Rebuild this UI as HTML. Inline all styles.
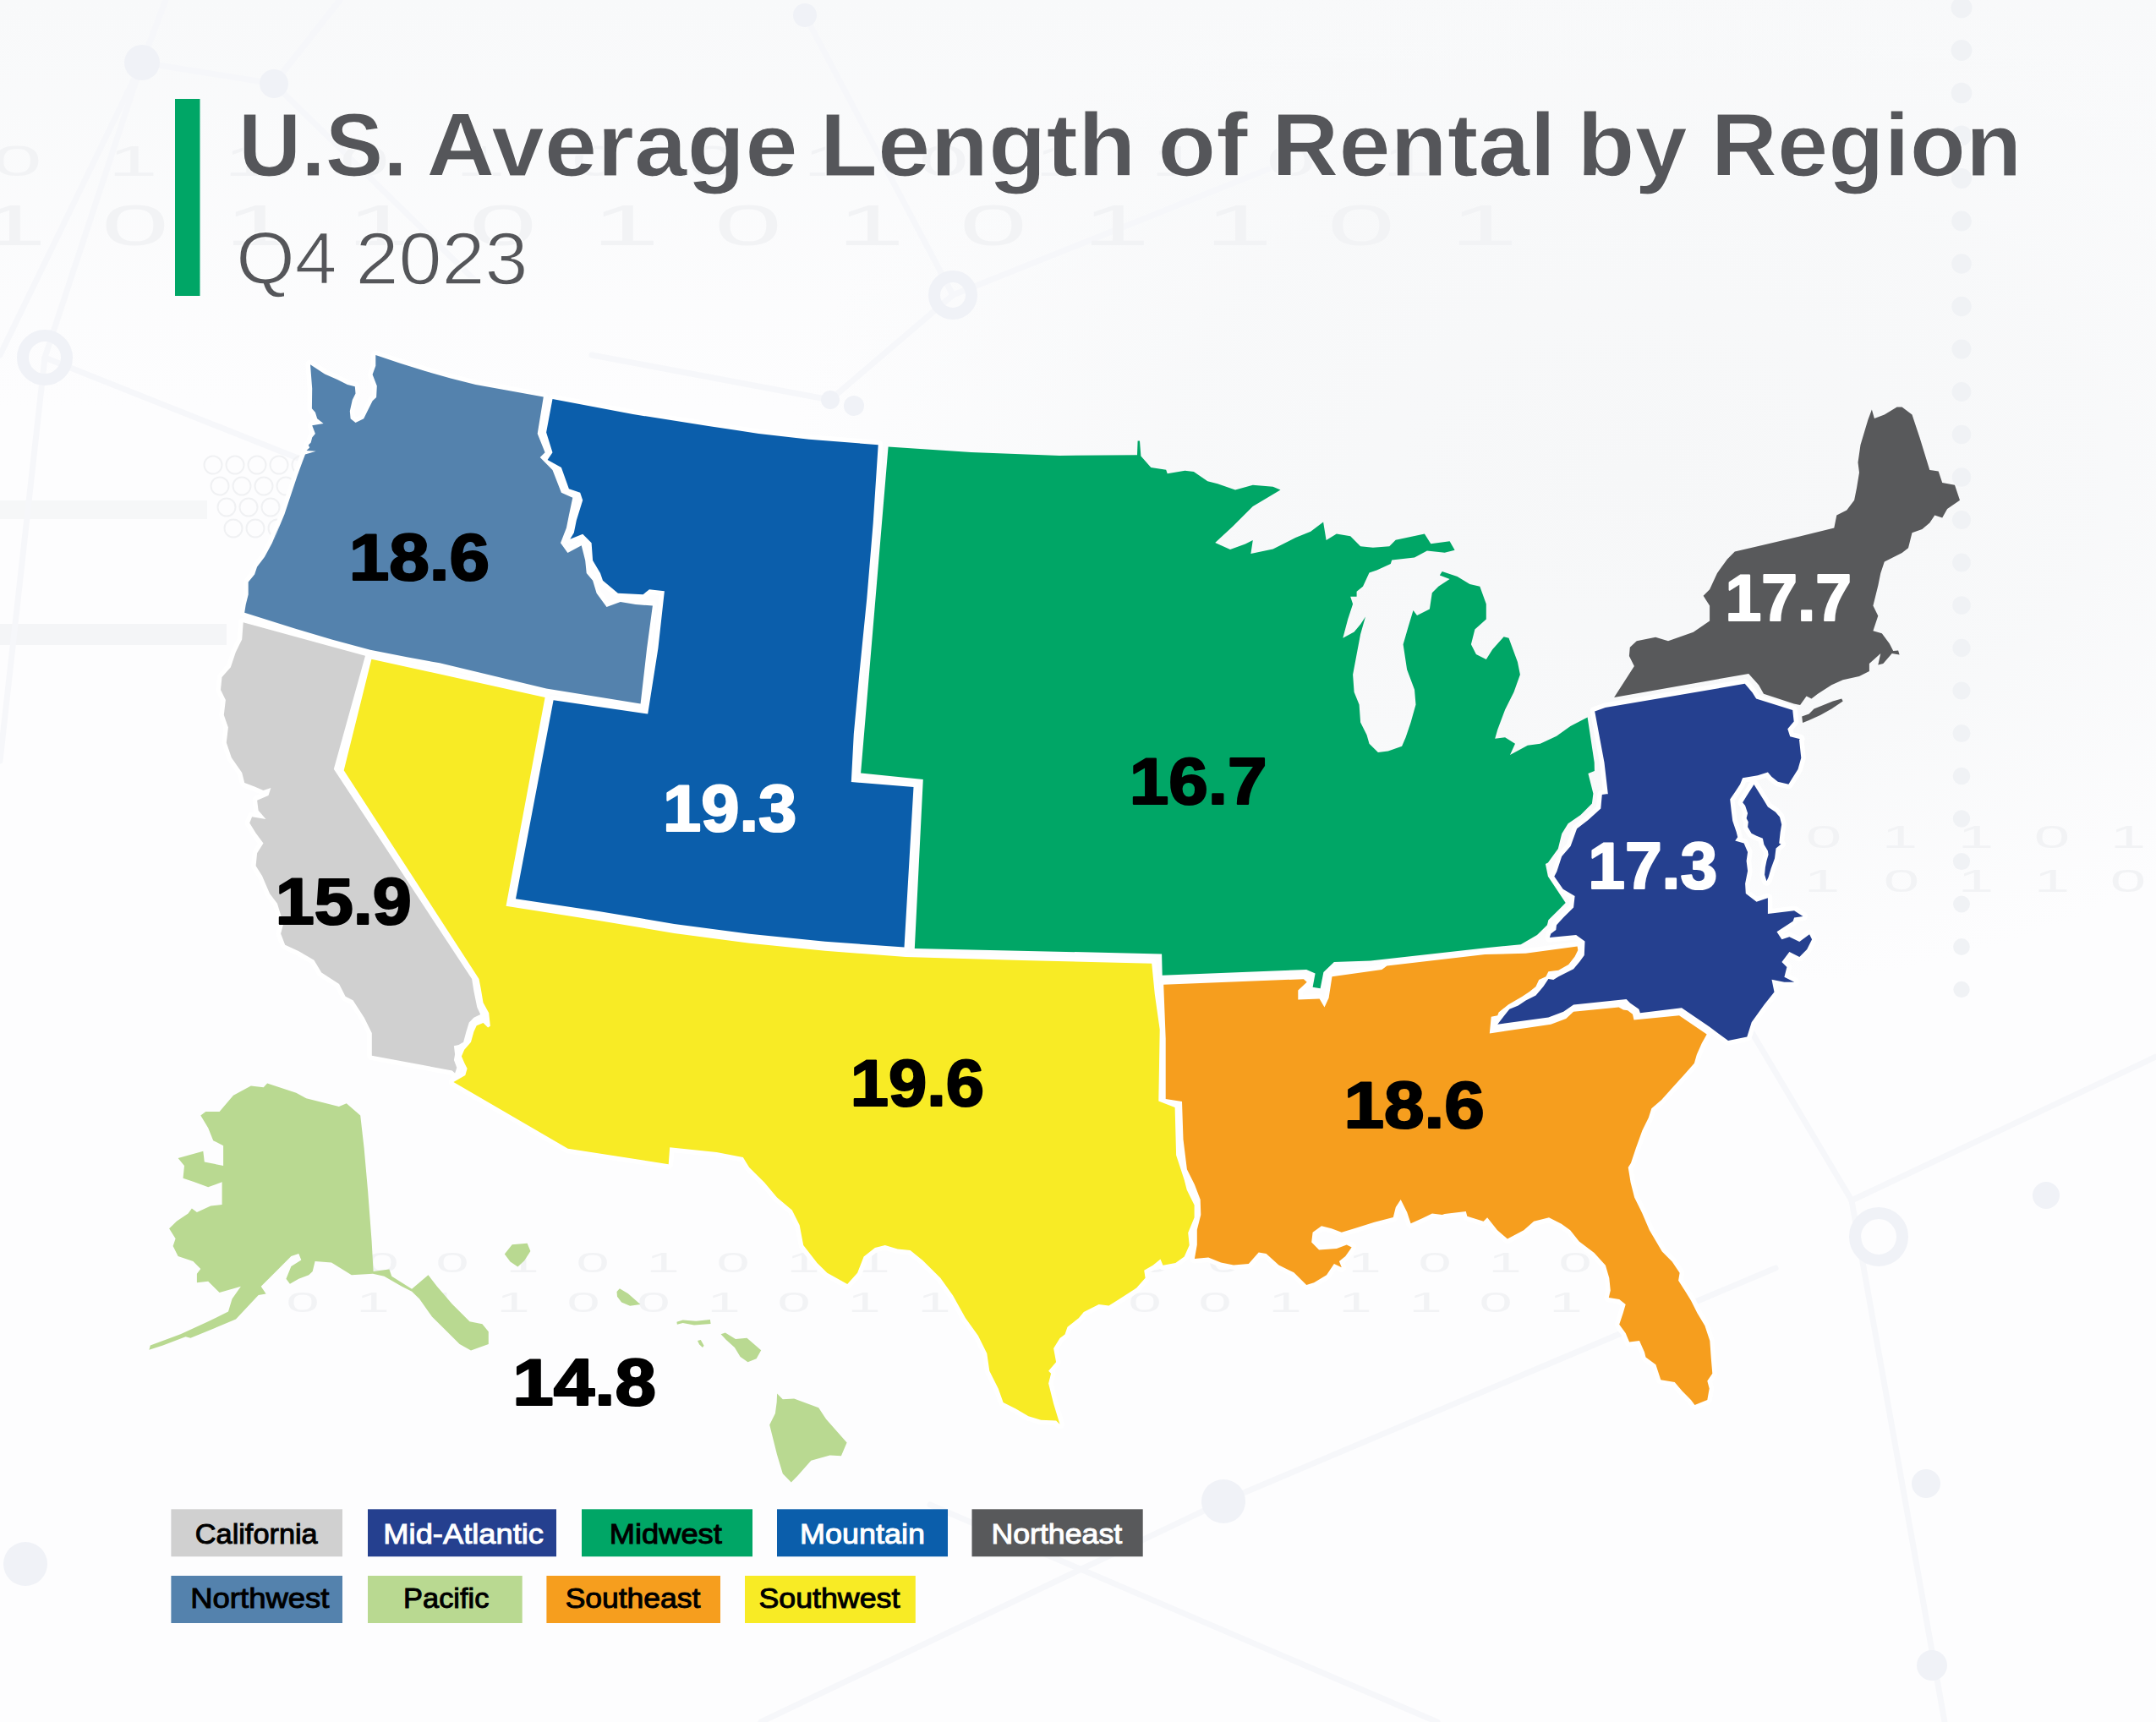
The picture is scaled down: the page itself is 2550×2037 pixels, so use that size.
<!DOCTYPE html>
<html lang="en"><head><meta charset="utf-8"><title>U.S. Average Length of Rental by Region</title>
<style>html,body{margin:0;padding:0;background:#fafbfc}body{width:2550px;height:2037px;overflow:hidden}svg{display:block}</style>
</head><body>
<svg width="2550" height="2037" viewBox="0 0 2550 2037" font-family="'Liberation Sans', sans-serif">
<rect width="2550" height="2037" fill="#fdfdfe"/>
<g id="decor">
<defs><linearGradient id="topG" x1="0" y1="0" x2="0" y2="1"><stop offset="0" stop-color="#f8f9fa"/><stop offset="1" stop-color="#f8f9fa" stop-opacity="0"/></linearGradient><radialGradient id="neG" cx="0.5" cy="0.5" r="0.5"><stop offset="0" stop-color="#f6f7f8"/><stop offset="0.55" stop-color="#f7f8f9" stop-opacity="0.85"/><stop offset="1" stop-color="#f7f8f9" stop-opacity="0"/></radialGradient></defs>
<rect x="0" y="0" width="2550" height="480" fill="url(#topG)"/>
<ellipse cx="1930" cy="560" rx="1000" ry="620" fill="url(#neG)"/>
<rect x="0" y="738" width="268" height="25" fill="#f4f5f7"/>
<rect x="0" y="592" width="245" height="22" fill="#f6f7f8"/>
<g stroke="#f6f7fa" stroke-width="7" stroke-linecap="round" fill="none">
<line x1="168" y1="74" x2="0" y2="420"/>
<line x1="168" y1="74" x2="196" y2="0"/>
<line x1="168" y1="74" x2="324" y2="99"/>
<line x1="324" y1="99" x2="402" y2="0"/>
<line x1="324" y1="99" x2="560" y2="330"/>
<line x1="53" y1="423" x2="168" y2="74"/>
<line x1="53" y1="423" x2="360" y2="545"/>
<line x1="53" y1="423" x2="0" y2="900"/>
<line x1="952" y1="18" x2="1127" y2="349"/>
<line x1="1127" y1="349" x2="982" y2="473"/>
<line x1="1127" y1="349" x2="1500" y2="200"/>
<line x1="982" y1="473" x2="700" y2="420"/>
<line x1="2190" y1="1420" x2="2300" y2="2037"/>
<line x1="2190" y1="1420" x2="2000" y2="1100"/>
<line x1="2190" y1="1420" x2="2550" y2="1250"/>
<line x1="1100" y1="1780" x2="1700" y2="2037"/>
<line x1="1447" y1="1776" x2="2100" y2="1500"/>
<line x1="1447" y1="1776" x2="900" y2="2037"/>
</g>
<circle cx="168" cy="74" r="21" fill="#f0f2f7"/>
<circle cx="324" cy="99" r="17" fill="#f0f2f7"/>
<circle cx="952" cy="18" r="14" fill="#f0f2f7"/>
<circle cx="982" cy="473" r="11" fill="#f0f2f7"/>
<circle cx="2420" cy="1414" r="16" fill="#f0f2f7"/>
<circle cx="2278" cy="1755" r="17" fill="#f0f2f7"/>
<circle cx="2285" cy="1970" r="18" fill="#f0f2f7"/>
<circle cx="1447" cy="1776" r="26" fill="#f0f2f7"/>
<circle cx="30" cy="1850" r="26" fill="#f0f2f7"/>
<circle cx="1010" cy="480" r="12" fill="#f0f2f7"/>
<circle cx="53" cy="423" r="26" fill="none" stroke="#f0f2f7" stroke-width="14"/>
<circle cx="1127" cy="349" r="22" fill="none" stroke="#f0f2f7" stroke-width="14"/>
<circle cx="2222" cy="1463" r="28" fill="none" stroke="#f0f2f7" stroke-width="14"/>
<circle cx="2320" cy="9.0" r="12.5" fill="#f0f2f5"/>
<circle cx="2320" cy="59.5" r="12.4" fill="#f0f2f5"/>
<circle cx="2320" cy="110.0" r="12.3" fill="#f0f2f5"/>
<circle cx="2320" cy="160.5" r="12.1" fill="#f0f2f5"/>
<circle cx="2320" cy="211.0" r="12.0" fill="#f0f2f5"/>
<circle cx="2320" cy="261.5" r="11.9" fill="#f0f2f5"/>
<circle cx="2320" cy="312.0" r="11.8" fill="#f0f2f5"/>
<circle cx="2320" cy="362.5" r="11.7" fill="#f0f2f5"/>
<circle cx="2320" cy="413.0" r="11.5" fill="#f0f2f5"/>
<circle cx="2320" cy="463.5" r="11.4" fill="#f0f2f5"/>
<circle cx="2320" cy="514.0" r="11.3" fill="#f0f2f5"/>
<circle cx="2320" cy="564.5" r="11.2" fill="#f0f2f5"/>
<circle cx="2320" cy="615.0" r="11.1" fill="#f0f2f5"/>
<circle cx="2320" cy="665.5" r="10.9" fill="#f0f2f5"/>
<circle cx="2320" cy="716.0" r="10.8" fill="#f0f2f5"/>
<circle cx="2320" cy="766.5" r="10.7" fill="#f0f2f5"/>
<circle cx="2320" cy="817.0" r="10.6" fill="#f0f2f5"/>
<circle cx="2320" cy="867.5" r="10.5" fill="#f0f2f5"/>
<circle cx="2320" cy="918.0" r="10.3" fill="#f0f2f5"/>
<circle cx="2320" cy="968.5" r="10.2" fill="#f0f2f5"/>
<circle cx="2320" cy="1019.0" r="10.1" fill="#f0f2f5"/>
<circle cx="2320" cy="1069.5" r="10.0" fill="#f0f2f5"/>
<circle cx="2320" cy="1120.0" r="9.9" fill="#f0f2f5"/>
<circle cx="2320" cy="1170.5" r="9.7" fill="#f0f2f5"/>
<circle cx="252" cy="550" r="10.5" fill="none" stroke="#f0f1f3" stroke-width="2"/>
<circle cx="278" cy="550" r="10.5" fill="none" stroke="#f0f1f3" stroke-width="2"/>
<circle cx="304" cy="550" r="10.5" fill="none" stroke="#f0f1f3" stroke-width="2"/>
<circle cx="330" cy="550" r="10.5" fill="none" stroke="#f0f1f3" stroke-width="2"/>
<circle cx="356" cy="550" r="10.5" fill="none" stroke="#f0f1f3" stroke-width="2"/>
<circle cx="260" cy="575" r="10.5" fill="none" stroke="#f0f1f3" stroke-width="2"/>
<circle cx="286" cy="575" r="10.5" fill="none" stroke="#f0f1f3" stroke-width="2"/>
<circle cx="312" cy="575" r="10.5" fill="none" stroke="#f0f1f3" stroke-width="2"/>
<circle cx="338" cy="575" r="10.5" fill="none" stroke="#f0f1f3" stroke-width="2"/>
<circle cx="364" cy="575" r="10.5" fill="none" stroke="#f0f1f3" stroke-width="2"/>
<circle cx="268" cy="600" r="10.5" fill="none" stroke="#f0f1f3" stroke-width="2"/>
<circle cx="294" cy="600" r="10.5" fill="none" stroke="#f0f1f3" stroke-width="2"/>
<circle cx="320" cy="600" r="10.5" fill="none" stroke="#f0f1f3" stroke-width="2"/>
<circle cx="346" cy="600" r="10.5" fill="none" stroke="#f0f1f3" stroke-width="2"/>
<circle cx="276" cy="625" r="10.5" fill="none" stroke="#f0f1f3" stroke-width="2"/>
<circle cx="302" cy="625" r="10.5" fill="none" stroke="#f0f1f3" stroke-width="2"/>
<circle cx="328" cy="625" r="10.5" fill="none" stroke="#f0f1f3" stroke-width="2"/>
<circle cx="354" cy="625" r="10.5" fill="none" stroke="#f0f1f3" stroke-width="2"/>
<text transform="translate(20.0 208.0) scale(2.1 1)" font-size="50.3" text-anchor="middle" fill="#f2f3f5">0</text>
<text transform="translate(157.0 208.0) scale(2.1 1)" font-size="50.3" text-anchor="middle" fill="#f2f3f5">1</text>
<text transform="translate(294.0 208.0) scale(2.1 1)" font-size="50.3" text-anchor="middle" fill="#f2f3f5">1</text>
<text transform="translate(431.0 208.0) scale(2.1 1)" font-size="50.3" text-anchor="middle" fill="#f2f3f5">0</text>
<text transform="translate(568.0 208.0) scale(2.1 1)" font-size="50.3" text-anchor="middle" fill="#f2f3f5">1</text>
<text transform="translate(705.0 208.0) scale(2.1 1)" font-size="50.3" text-anchor="middle" fill="#f2f3f5">0</text>
<text transform="translate(842.0 208.0) scale(2.1 1)" font-size="50.3" text-anchor="middle" fill="#f2f3f5">0</text>
<text transform="translate(979.0 208.0) scale(2.1 1)" font-size="50.3" text-anchor="middle" fill="#f2f3f5">1</text>
<text transform="translate(1116.0 208.0) scale(2.1 1)" font-size="50.3" text-anchor="middle" fill="#f2f3f5">0</text>
<text transform="translate(1253.0 208.0) scale(2.1 1)" font-size="50.3" text-anchor="middle" fill="#f2f3f5">1</text>
<text transform="translate(1390.0 208.0) scale(2.1 1)" font-size="50.3" text-anchor="middle" fill="#f2f3f5">1</text>
<text transform="translate(1527.0 208.0) scale(2.1 1)" font-size="50.3" text-anchor="middle" fill="#f2f3f5">0</text>
<text transform="translate(1664.0 208.0) scale(2.1 1)" font-size="50.3" text-anchor="middle" fill="#f2f3f5">1</text>
<text transform="translate(15.0 290.0) scale(2.1 1)" font-size="68.4" text-anchor="middle" fill="#f2f3f5">1</text>
<text transform="translate(160.0 290.0) scale(2.1 1)" font-size="68.4" text-anchor="middle" fill="#f2f3f5">0</text>
<text transform="translate(305.0 290.0) scale(2.1 1)" font-size="68.4" text-anchor="middle" fill="#f2f3f5">1</text>
<text transform="translate(450.0 290.0) scale(2.1 1)" font-size="68.4" text-anchor="middle" fill="#f2f3f5">1</text>
<text transform="translate(595.0 290.0) scale(2.1 1)" font-size="68.4" text-anchor="middle" fill="#f2f3f5">0</text>
<text transform="translate(740.0 290.0) scale(2.1 1)" font-size="68.4" text-anchor="middle" fill="#f2f3f5">1</text>
<text transform="translate(885.0 290.0) scale(2.1 1)" font-size="68.4" text-anchor="middle" fill="#f2f3f5">0</text>
<text transform="translate(1030.0 290.0) scale(2.1 1)" font-size="68.4" text-anchor="middle" fill="#f2f3f5">1</text>
<text transform="translate(1175.0 290.0) scale(2.1 1)" font-size="68.4" text-anchor="middle" fill="#f2f3f5">0</text>
<text transform="translate(1320.0 290.0) scale(2.1 1)" font-size="68.4" text-anchor="middle" fill="#f2f3f5">1</text>
<text transform="translate(1465.0 290.0) scale(2.1 1)" font-size="68.4" text-anchor="middle" fill="#f2f3f5">1</text>
<text transform="translate(1610.0 290.0) scale(2.1 1)" font-size="68.4" text-anchor="middle" fill="#f2f3f5">0</text>
<text transform="translate(1755.0 290.0) scale(2.1 1)" font-size="68.4" text-anchor="middle" fill="#f2f3f5">1</text>
<text transform="translate(2157.0 1003.0) scale(2.1 1)" font-size="36.3" text-anchor="middle" fill="#f2f3f5">0</text>
<text transform="translate(2247.0 1003.0) scale(2.1 1)" font-size="36.3" text-anchor="middle" fill="#f2f3f5">1</text>
<text transform="translate(2337.0 1003.0) scale(2.1 1)" font-size="36.3" text-anchor="middle" fill="#f2f3f5">1</text>
<text transform="translate(2427.0 1003.0) scale(2.1 1)" font-size="36.3" text-anchor="middle" fill="#f2f3f5">0</text>
<text transform="translate(2517.0 1003.0) scale(2.1 1)" font-size="36.3" text-anchor="middle" fill="#f2f3f5">1</text>
<text transform="translate(2155.0 1055.0) scale(2.1 1)" font-size="36.3" text-anchor="middle" fill="#f2f3f5">1</text>
<text transform="translate(2249.0 1055.0) scale(2.1 1)" font-size="36.3" text-anchor="middle" fill="#f2f3f5">0</text>
<text transform="translate(2337.0 1055.0) scale(2.1 1)" font-size="36.3" text-anchor="middle" fill="#f2f3f5">1</text>
<text transform="translate(2427.0 1055.0) scale(2.1 1)" font-size="36.3" text-anchor="middle" fill="#f2f3f5">1</text>
<text transform="translate(2517.0 1055.0) scale(2.1 1)" font-size="36.3" text-anchor="middle" fill="#f2f3f5">0</text>
<text transform="translate(452.0 1505.0) scale(2.1 1)" font-size="33.5" text-anchor="middle" fill="#f2f3f5">0</text>
<text transform="translate(535.0 1505.0) scale(2.1 1)" font-size="33.5" text-anchor="middle" fill="#f2f3f5">0</text>
<text transform="translate(618.0 1505.0) scale(2.1 1)" font-size="33.5" text-anchor="middle" fill="#f2f3f5">1</text>
<text transform="translate(701.0 1505.0) scale(2.1 1)" font-size="33.5" text-anchor="middle" fill="#f2f3f5">0</text>
<text transform="translate(784.0 1505.0) scale(2.1 1)" font-size="33.5" text-anchor="middle" fill="#f2f3f5">1</text>
<text transform="translate(867.0 1505.0) scale(2.1 1)" font-size="33.5" text-anchor="middle" fill="#f2f3f5">0</text>
<text transform="translate(950.0 1505.0) scale(2.1 1)" font-size="33.5" text-anchor="middle" fill="#f2f3f5">1</text>
<text transform="translate(1033.0 1505.0) scale(2.1 1)" font-size="33.5" text-anchor="middle" fill="#f2f3f5">1</text>
<text transform="translate(1116.0 1505.0) scale(2.1 1)" font-size="33.5" text-anchor="middle" fill="#f2f3f5">1</text>
<text transform="translate(1199.0 1505.0) scale(2.1 1)" font-size="33.5" text-anchor="middle" fill="#f2f3f5">0</text>
<text transform="translate(1282.0 1505.0) scale(2.1 1)" font-size="33.5" text-anchor="middle" fill="#f2f3f5">1</text>
<text transform="translate(1365.0 1505.0) scale(2.1 1)" font-size="33.5" text-anchor="middle" fill="#f2f3f5">0</text>
<text transform="translate(1448.0 1505.0) scale(2.1 1)" font-size="33.5" text-anchor="middle" fill="#f2f3f5">0</text>
<text transform="translate(1531.0 1505.0) scale(2.1 1)" font-size="33.5" text-anchor="middle" fill="#f2f3f5">1</text>
<text transform="translate(1614.0 1505.0) scale(2.1 1)" font-size="33.5" text-anchor="middle" fill="#f2f3f5">1</text>
<text transform="translate(1697.0 1505.0) scale(2.1 1)" font-size="33.5" text-anchor="middle" fill="#f2f3f5">0</text>
<text transform="translate(1780.0 1505.0) scale(2.1 1)" font-size="33.5" text-anchor="middle" fill="#f2f3f5">1</text>
<text transform="translate(1863.0 1505.0) scale(2.1 1)" font-size="33.5" text-anchor="middle" fill="#f2f3f5">0</text>
<text transform="translate(358.0 1552.0) scale(2.1 1)" font-size="33.5" text-anchor="middle" fill="#f2f3f5">0</text>
<text transform="translate(441.0 1552.0) scale(2.1 1)" font-size="33.5" text-anchor="middle" fill="#f2f3f5">1</text>
<text transform="translate(524.0 1552.0) scale(2.1 1)" font-size="33.5" text-anchor="middle" fill="#f2f3f5">1</text>
<text transform="translate(607.0 1552.0) scale(2.1 1)" font-size="33.5" text-anchor="middle" fill="#f2f3f5">1</text>
<text transform="translate(690.0 1552.0) scale(2.1 1)" font-size="33.5" text-anchor="middle" fill="#f2f3f5">0</text>
<text transform="translate(773.0 1552.0) scale(2.1 1)" font-size="33.5" text-anchor="middle" fill="#f2f3f5">0</text>
<text transform="translate(856.0 1552.0) scale(2.1 1)" font-size="33.5" text-anchor="middle" fill="#f2f3f5">1</text>
<text transform="translate(939.0 1552.0) scale(2.1 1)" font-size="33.5" text-anchor="middle" fill="#f2f3f5">0</text>
<text transform="translate(1022.0 1552.0) scale(2.1 1)" font-size="33.5" text-anchor="middle" fill="#f2f3f5">1</text>
<text transform="translate(1105.0 1552.0) scale(2.1 1)" font-size="33.5" text-anchor="middle" fill="#f2f3f5">1</text>
<text transform="translate(1188.0 1552.0) scale(2.1 1)" font-size="33.5" text-anchor="middle" fill="#f2f3f5">0</text>
<text transform="translate(1271.0 1552.0) scale(2.1 1)" font-size="33.5" text-anchor="middle" fill="#f2f3f5">1</text>
<text transform="translate(1354.0 1552.0) scale(2.1 1)" font-size="33.5" text-anchor="middle" fill="#f2f3f5">0</text>
<text transform="translate(1437.0 1552.0) scale(2.1 1)" font-size="33.5" text-anchor="middle" fill="#f2f3f5">0</text>
<text transform="translate(1520.0 1552.0) scale(2.1 1)" font-size="33.5" text-anchor="middle" fill="#f2f3f5">1</text>
<text transform="translate(1603.0 1552.0) scale(2.1 1)" font-size="33.5" text-anchor="middle" fill="#f2f3f5">1</text>
<text transform="translate(1686.0 1552.0) scale(2.1 1)" font-size="33.5" text-anchor="middle" fill="#f2f3f5">1</text>
<text transform="translate(1769.0 1552.0) scale(2.1 1)" font-size="33.5" text-anchor="middle" fill="#f2f3f5">0</text>
<text transform="translate(1852.0 1552.0) scale(2.1 1)" font-size="33.5" text-anchor="middle" fill="#f2f3f5">1</text>
</g>
<rect x="207" y="117" width="29.5" height="233" fill="#00a666"/>
<g id="title" stroke="#fbfcfc" stroke-width="1.2" stroke-linejoin="round"><text transform="translate(282.12 207.90) scale(0.9639 1.0000)" font-size="106.5" font-weight="700" fill="#55565a">U.S.</text><text transform="translate(504.13 207.90) scale(1.0556 1.0000)" font-size="106.5" font-weight="700" fill="#55565a">Average</text><text transform="translate(969.52 207.90) scale(1.0537 1.0000)" font-size="106.5" font-weight="700" fill="#55565a">Length</text><text transform="translate(1369.36 207.90) scale(1.0608 1.0000)" font-size="106.5" font-weight="700" fill="#55565a">of</text><text transform="translate(1503.97 207.90) scale(1.0328 1.0000)" font-size="106.5" font-weight="700" fill="#55565a">Rental</text><text transform="translate(1865.15 207.90) scale(1.0504 1.0000)" font-size="106.5" font-weight="700" fill="#55565a">by</text><text transform="translate(2023.67 207.90) scale(1.0182 1.0000)" font-size="106.5" font-weight="700" fill="#55565a">Region</text></g><g id="subtitle" stroke="#fbfcfc" stroke-width="1.5"><text transform="translate(279.28 336.20) scale(1.0312 1.0000)" font-size="86.6" font-weight="400" fill="#55565a">Q4</text><text transform="translate(420.46 336.20) scale(1.0589 1.0000)" font-size="86.6" font-weight="400" fill="#55565a">2023</text></g>
<g fill="#fff" stroke="#fff" stroke-width="11" stroke-linejoin="round">
<path d="M287.7 736.3 L432 775.8 L394.8 909.7 L558.1 1158.1 L560.4 1172.6 L564.3 1191.5 L568.2 1199.9 L560.4 1203.8 L554.8 1209.4 L551.4 1220.5 L548.1 1232.8 L542.5 1236.1 L536.9 1237.2 L538.1 1247.3 L536.9 1254 L540.3 1262.9 L538.1 1269.6 L534.9 1266.5 L439.8 1248.7 L439.8 1221.9 L430.9 1204.1 L417.5 1183.3 L408.6 1178.8 L401.1 1163.9 L380.3 1150.6 L371.4 1135.7 L353.5 1125.3 L337.2 1117.8 L332.1 1104.5 L335.3 1092.6 L327.9 1068.8 L319 1056.9 L310 1036.1 L302.6 1024.2 L304.1 1009.3 L311.5 997.4 L302.6 985.5 L295.2 973.6 L298.1 966.2 L314.5 969.1 L305.6 958.7 L304.1 946.8 L317.5 940.9 L320.4 932 L311.5 934.9 L301.1 930.5 L289.2 926 L286.2 914.1 L273.8 896.3 L267.8 878.4 L269.9 860.6 L264.8 845.7 L266.9 827.9 L261 816 L262.5 801.1 L272.9 789.2 L278.8 771.4 L286.2 756.5Z"/>
<path d="M367 431.2 L384.1 442.4 L399 449.1 L410.9 455 L419.8 457.2 L420.5 465.4 L416.8 472.9 L413.8 486.2 L414.6 495.2 L420.5 499.9 L430.2 495.2 L434.6 486.2 L440.6 474.3 L445.1 469.9 L445.8 456.5 L440.6 443.1 L444.3 432.7 L444.3 420.1 L473.3 429.7 L503 439 L532.8 447.6 L562.5 455 L600 461.7 L642.8 469.6 L635.7 512.9 L644.6 535.2 L638.7 541.1 L653.5 556 L663.9 582.8 L677.3 588.7 L672.9 609.5 L669.9 624.4 L663 642.2 L671.4 654.1 L687.7 645.2 L692.2 663 L693.7 677.9 L701.1 686.8 L705.6 701.7 L717.5 718.1 L733.8 712.1 L751.7 715.1 L771.9 716.6 L765.1 767.1 L757.6 832.6 L646.1 814.5 L520 784.3 L482.5 777.6 L437.9 768.7 L393.3 756.8 L348.7 743.4 L289.2 724.8 L290.7 715.2 L293.7 703.3 L293.7 688.4 L301.1 679.5 L304.1 670.6 L313 658.7 L321.9 642.3 L330.9 620 L323.1 640.9 L329.1 626 L336.5 608.2 L343.9 585.9 L351.4 563.6 L357.3 547.2 L361 537.5 L373.7 533.8 L362.5 533.1 L366.2 529.4 L364.8 526.4 L367.7 523.4 L369.2 517.5 L372.9 513 L369.2 503.3 L382.6 501.1 L375.2 495.2 L372.9 487.7 L368.9 483.3 L369.2 459.5Z"/>
<path d="M439.4 779.7 L644.6 824.9 L598.5 1071.7 L708.2 1089.1 L797.4 1103.9 L886.6 1115.8 L975.8 1124.8 L1071.4 1132 L1208.2 1135.9 L1362.2 1139.7 L1365.8 1176 L1371.7 1217.7 L1370.3 1302.4 L1389.6 1309.9 L1391.1 1366.4 L1400.7 1395.7 L1403.7 1407.6 L1412.6 1425.5 L1412.6 1440.3 L1405.2 1458.2 L1406.7 1473 L1400.7 1486.4 L1390.3 1493.9 L1375.5 1496.8 L1372.5 1489.4 L1363.6 1496.8 L1353.2 1502.8 L1354.6 1511.7 L1344.2 1523.6 L1323.4 1537 L1311.5 1544.4 L1299.6 1542.9 L1281.8 1551.9 L1275.8 1559.3 L1262.5 1569.7 L1259.5 1578.6 L1253.5 1583.1 L1246.1 1595 L1249.1 1611.3 L1240.1 1621.7 L1243.1 1624.7 L1240.1 1636.6 L1246.1 1660.4 L1253.5 1684.8 L1249.1 1680.6 L1231.2 1679.7 L1216.4 1675.3 L1201.5 1666.4 L1186.6 1658.9 L1180.7 1642.6 L1170.3 1621.7 L1167.3 1600.9 L1156.9 1580.1 L1142 1559.3 L1127.1 1532.5 L1112.3 1511.7 L1091.4 1490.9 L1076.6 1479 L1061.7 1477.5 L1046.8 1473 L1034.9 1476 L1021.6 1486.4 L1014.1 1505.8 L1002.2 1519.1 L978.4 1505.8 L966.5 1493.9 L950.2 1473 L945.7 1449.3 L936.8 1431.4 L919 1416.5 L904.1 1398.7 L886.2 1380.9 L878.8 1369 L847.6 1363 L792.2 1357.2 L790.7 1377.2 L671.7 1358.7 L536.4 1279.9 L550.3 1272 L552.6 1264 L549.2 1257.3 L545.9 1249.5 L549.2 1241.7 L557 1232.8 L560.4 1220.5 L563.7 1213.3 L571.5 1209.9 L577.1 1215.5 L579.9 1213.8 L578.2 1198.2 L571.5 1185.9 L568.7 1169.2 L566.5 1158.1 L406.7 911.2Z"/>
<path d="M653.5 472.1 L701.1 481 L748.7 490 L837.9 503.9 L897.4 512.9 L956.9 519.7 L1038.7 526.2 L1032.7 618.4 L1025.3 707.7 L1016.4 796.9 L1009.8 868.3 L1006.8 925.1 L1080.5 930.9 L1069.5 1120.6 L975.8 1113.8 L886.6 1104.8 L797.4 1092.9 L708.2 1078.1 L610 1063.2 L654.6 828.3 L766.2 844.6 L778.4 767.1 L785.9 699.3 L768 697.2 L760.6 703.2 L730.9 701.7 L713 686.8 L710 677.9 L701.1 663 L699.6 642.2 L689.2 631.8 L674.3 637.8 L678.8 630.3 L681.8 615.5 L689.2 591.7 L686.2 582.8 L672.9 578.3 L663.9 553 L647.6 544.1 L653.5 535.2 L646.1 511.4Z"/>
<path d="M1376.2 1164.7 L1541.9 1158.2 L1545.7 1161.7 L1535.3 1171.6 L1535.3 1182.6 L1560.6 1181.4 L1566.5 1191.5 L1571.6 1180.5 L1575.5 1155.2 L1634.4 1146.9 L1640.4 1142.5 L1756.4 1129.1 L1804.6 1127.7 L1865.6 1119.5 L1866.3 1123.9 L1862.6 1131.4 L1855.2 1141 L1843.3 1147.7 L1831.4 1149.2 L1828.4 1155.2 L1820.2 1158.9 L1816.5 1167.1 L1809.1 1173 L1800.1 1179 L1783.8 1188.6 L1772.6 1197.5 L1771.2 1201.3 L1763.7 1202.8 L1761.8 1222.4 L1834.3 1211.7 L1852.2 1205 L1861.1 1196.8 L1914.6 1191.6 L1919.9 1194.6 L1925.1 1195.3 L1931 1199.8 L1932.5 1206.5 L1986 1201.3 L2018.7 1223.6 L2012.8 1234 L2006.8 1247.4 L2003.9 1257.8 L1992 1271.2 L1978.6 1286 L1965.2 1300.9 L1953.3 1311.3 L1949.8 1322.3 L1942.4 1337.2 L1934.9 1358 L1929 1375.8 L1925.7 1380.9 L1928.6 1398.7 L1933.1 1416.5 L1942 1434.4 L1950.9 1455.2 L1965.8 1480.5 L1977.7 1492.4 L1986.6 1505.8 L1985.1 1514.7 L1992.6 1526.6 L2000 1538.5 L2007.4 1553.3 L2016.4 1568.2 L2022.3 1586.1 L2023.8 1606.9 L2025.3 1624.7 L2019.3 1633.6 L2021.7 1642.6 L2019.3 1655.9 L2004.5 1661.9 L2000 1655.9 L1989.6 1645.5 L1980.7 1635.1 L1964.3 1632.2 L1958.4 1614.3 L1946.5 1605.4 L1945 1599.4 L1939 1586.1 L1927.1 1587.5 L1922.7 1577.1 L1915.2 1566.7 L1919.7 1553.3 L1922.7 1542.9 L1915.2 1537 L1902.8 1534.9 L1904.8 1526.6 L1903.3 1511.7 L1898.9 1496.8 L1885.5 1482 L1867.7 1468.6 L1857.2 1455.2 L1846.8 1447.8 L1832 1440.3 L1814.1 1444.8 L1802.2 1455.2 L1782.9 1465.6 L1771 1455.2 L1759.1 1440.3 L1754.6 1444.8 L1735.3 1438.8 L1733.8 1432.9 L1708.6 1435.9 L1705.8 1436.9 L1693.9 1435.4 L1682 1441.3 L1668.6 1447.3 L1664.2 1433.9 L1656.7 1419 L1650.8 1428 L1647.8 1439.9 L1625.5 1445.8 L1601.7 1453.2 L1586.8 1457.7 L1574.9 1453.2 L1563 1450.3 L1552.6 1457.7 L1551.2 1469.6 L1560.1 1478.5 L1580.9 1477 L1592.8 1472.6 L1598.7 1475.5 L1591.3 1485.9 L1583.9 1491.9 L1586.8 1499.3 L1577.9 1494.9 L1569 1508.3 L1554.1 1517.2 L1545.2 1520.1 L1530.3 1505.3 L1512.5 1496.4 L1497.6 1483 L1488.7 1481.5 L1476.8 1494.9 L1459 1496.4 L1444.1 1493.4 L1429.2 1487.4 L1412.9 1488.9 L1415.8 1472.6 L1415.8 1454.7 L1420.3 1436.9 L1419.7 1419 L1412.9 1401.2 L1403.9 1383.3 L1399.5 1347.7 L1398 1303 L1378.7 1300.1 L1378.7 1228.7Z"/>
<path d="M1886.2 841.5 L1898.7 837 L2063.7 808.8 L2072.6 819.2 L2077.1 826.6 L2120.2 840 L2121.7 853.4 L2114.3 862.3 L2117.2 871.2 L2129.1 874.2 L2128 874.9 L2130.3 896.5 L2126.5 909.9 L2119.1 921.8 L2115.4 927.7 L2102.8 924.8 L2095.3 918.8 L2090.9 913.6 L2079 917.3 L2061.1 920.3 L2058.1 927.7 L2052.2 936.7 L2046.2 945.6 L2047.7 959 L2049.2 970.9 L2053.7 984.2 L2055.2 990.2 L2052.2 994.6 L2062.6 997.6 L2067.1 1008 L2065.6 1018.4 L2067.1 1030.3 L2064.1 1045.2 L2064.8 1057.1 L2077.5 1066.8 L2090.9 1062.3 L2090.9 1080.9 L2122.1 1077.2 L2132.5 1083.9 L2122.1 1085.4 L2120.6 1089.8 L2101.5 1102.2 L2107.4 1111.2 L2116.4 1108.2 L2128.3 1114.1 L2140.1 1105.2 L2143.1 1111.2 L2137.2 1123 L2128.3 1132 L2116.4 1126 L2107.4 1137.9 L2113.4 1143.9 L2110.4 1155.8 L2122.3 1161.7 L2110.4 1161.7 L2095.5 1158.7 L2098.5 1173.6 L2086.6 1188.5 L2071.7 1209.3 L2066.3 1226.5 L2044 1231 L2021.7 1214.6 L1989 1192.3 L1939.9 1198.3 L1938.4 1193.8 L1928 1186.4 L1923.6 1181.9 L1861.1 1188.6 L1849.2 1196.8 L1831.4 1203.5 L1771.2 1211.7 L1779.3 1201.3 L1785.3 1193.8 L1795.7 1189.4 L1804.6 1183.4 L1816.5 1177.5 L1825.4 1167.1 L1831.4 1158.1 L1837.3 1158.9 L1843.3 1155.2 L1861.1 1146.2 L1868.6 1137.3 L1873.8 1129.9 L1874.5 1113.5 L1864.1 1106.1 L1832.9 1109.1 L1834.3 1104.6 L1840.3 1100.1 L1841 1094.2 L1849.2 1085.3 L1861.1 1073.4 L1862.6 1060 L1848.7 1051.7 L1838.3 1036.8 L1841.3 1030.9 L1847.2 1013 L1857.6 1001.1 L1865.1 980.3 L1878.4 969.9 L1893.3 956.5 L1894.8 940.1 L1903.7 938.7 L1902 940.7 L1897.5 902Z M2074.5 928 L2079 935.2 L2086.4 947.1 L2090.9 954.5 L2099.8 960.4 L2105 966.4 L2107.2 975.3 L2105.7 984.2 L2104.2 997.6 L2106.5 998.4 L2100.5 1003.6 L2099 1015.5 L2094.6 1027.4 L2091.6 1037.8 L2089.4 1042.2 L2087.1 1034.8 L2087.9 1025.9 L2089.4 1018.4 L2091.6 1011 L2090.9 1006.5 L2086.4 999.1 L2084.9 991.7 L2077.5 988.7 L2071.5 985.7 L2067.1 978.3 L2067.8 972.3 L2065.6 967.9 L2067.1 961.9 L2064.1 953 L2061.1 949.3 L2067.1 939.6Z"/>
</g>
<path d="M316.1 1281.4 L350.3 1292.7 L362.2 1299.3 L400.9 1309.1 L409.8 1305.2 L426.2 1319.5 L430.6 1358.1 L435.1 1408.7 L439.6 1468.2 L441.6 1503.9 L460.4 1501.5 L463.3 1509.8 L487.1 1524.7 L506.5 1508.3 L516.9 1521.7 L534.7 1542.5 L555.5 1563.3 L570.4 1566.3 L577.8 1575.2 L577.8 1590.1 L557 1597.5 L543.6 1590.1 L528.8 1575.2 L510.9 1557.4 L496.1 1536.6 L487.1 1527.7 L475.2 1521.7 L454.4 1509.8 L441 1506.8 L415.8 1508.3 L392 1493.5 L372.6 1492 L369.7 1503.9 L365.2 1508.3 L353.3 1512.8 L342.9 1518.7 L338.4 1512.8 L344.4 1497.9 L356.3 1490.5 L353.3 1483 L344.4 1486 L326.5 1503.9 L308.7 1521.7 L314.6 1530.6 L305.7 1532.1 L279 1560.4 L258.1 1569.3 L225.4 1582.7 L219.5 1581.2 L192.7 1591.6 L176.4 1596.7 L177.8 1591.6 L213.5 1578.2 L246.2 1563.3 L270 1551.4 L274.5 1536.6 L284.9 1521.7 L259.6 1529.1 L246.2 1515.8 L232.9 1517.2 L232.9 1506.8 L237.3 1500.9 L228.4 1492 L210.6 1486 L204.6 1474.1 L207.6 1465.2 L200.1 1453.3 L209.1 1444.4 L222.5 1435.5 L226.9 1429.5 L232.9 1434 L249.2 1426.5 L262.6 1425.1 L262.6 1398.3 L246.2 1404.2 L229.9 1398.3 L216.5 1393.8 L218 1379 L210.6 1370 L240.3 1361.7 L241.8 1374.5 L264.1 1379 L264.1 1355.2 L252.2 1349.2 L246.2 1334.3 L237.3 1319.5 L243.3 1315 L259.6 1315 L276 1295.7 L296.8 1284.4 L311.7 1286.2Z M596.8 1483.5 L605.7 1472.3 L623.6 1470.8 L627.4 1480.1 L620.2 1491.3 L612.4 1498.4 L603.5 1492.4Z M729.5 1528.1 L732.9 1524.3 L742.9 1530.3 L757.4 1543 L745.1 1544.8 L735.1 1540.4 L730 1533.7Z M800.4 1563.8 L807.6 1561.6 L823.2 1562.7 L839.9 1560.9 L840.6 1566 L821 1567.6 L807.6 1564.9 L800.9 1566.7Z M825 1586.1 L828.8 1585 L832.6 1591.7 L831 1593.9 L827.2 1590.6Z M852.6 1578.3 L857.8 1576.5 L870 1583.9 L883.4 1582.8 L900.2 1597.3 L894.6 1607.3 L884.5 1611.3 L875.6 1605.1 L868.9 1593.9 L858.9 1585Z M919.1 1648.6 L925.8 1655.2 L939.2 1654.6 L968.2 1665.3 L977.1 1678.7 L1001.6 1706.5 L994.9 1722.2 L981.6 1721.5 L959.3 1727.7 L943.6 1745.6 L935.8 1753.4 L925.8 1743.3 L919.1 1721 L910.2 1685.4 L916.9 1672 L918.7 1658.6Z" fill="#b9d991"/>
<path d="M287.7 736.3 L432 775.8 L394.8 909.7 L558.1 1158.1 L560.4 1172.6 L564.3 1191.5 L568.2 1199.9 L560.4 1203.8 L554.8 1209.4 L551.4 1220.5 L548.1 1232.8 L542.5 1236.1 L536.9 1237.2 L538.1 1247.3 L536.9 1254 L540.3 1262.9 L538.1 1269.6 L534.9 1266.5 L439.8 1248.7 L439.8 1221.9 L430.9 1204.1 L417.5 1183.3 L408.6 1178.8 L401.1 1163.9 L380.3 1150.6 L371.4 1135.7 L353.5 1125.3 L337.2 1117.8 L332.1 1104.5 L335.3 1092.6 L327.9 1068.8 L319 1056.9 L310 1036.1 L302.6 1024.2 L304.1 1009.3 L311.5 997.4 L302.6 985.5 L295.2 973.6 L298.1 966.2 L314.5 969.1 L305.6 958.7 L304.1 946.8 L317.5 940.9 L320.4 932 L311.5 934.9 L301.1 930.5 L289.2 926 L286.2 914.1 L273.8 896.3 L267.8 878.4 L269.9 860.6 L264.8 845.7 L266.9 827.9 L261 816 L262.5 801.1 L272.9 789.2 L278.8 771.4 L286.2 756.5Z" fill="#d0d0d0"/>
<path d="M367 431.2 L384.1 442.4 L399 449.1 L410.9 455 L419.8 457.2 L420.5 465.4 L416.8 472.9 L413.8 486.2 L414.6 495.2 L420.5 499.9 L430.2 495.2 L434.6 486.2 L440.6 474.3 L445.1 469.9 L445.8 456.5 L440.6 443.1 L444.3 432.7 L444.3 420.1 L473.3 429.7 L503 439 L532.8 447.6 L562.5 455 L600 461.7 L642.8 469.6 L635.7 512.9 L644.6 535.2 L638.7 541.1 L653.5 556 L663.9 582.8 L677.3 588.7 L672.9 609.5 L669.9 624.4 L663 642.2 L671.4 654.1 L687.7 645.2 L692.2 663 L693.7 677.9 L701.1 686.8 L705.6 701.7 L717.5 718.1 L733.8 712.1 L751.7 715.1 L771.9 716.6 L765.1 767.1 L757.6 832.6 L646.1 814.5 L520 784.3 L482.5 777.6 L437.9 768.7 L393.3 756.8 L348.7 743.4 L289.2 724.8 L290.7 715.2 L293.7 703.3 L293.7 688.4 L301.1 679.5 L304.1 670.6 L313 658.7 L321.9 642.3 L330.9 620 L323.1 640.9 L329.1 626 L336.5 608.2 L343.9 585.9 L351.4 563.6 L357.3 547.2 L361 537.5 L373.7 533.8 L362.5 533.1 L366.2 529.4 L364.8 526.4 L367.7 523.4 L369.2 517.5 L372.9 513 L369.2 503.3 L382.6 501.1 L375.2 495.2 L372.9 487.7 L368.9 483.3 L369.2 459.5Z" fill="#5482ad"/>
<path d="M439.4 779.7 L644.6 824.9 L598.5 1071.7 L708.2 1089.1 L797.4 1103.9 L886.6 1115.8 L975.8 1124.8 L1071.4 1132 L1208.2 1135.9 L1362.2 1139.7 L1365.8 1176 L1371.7 1217.7 L1370.3 1302.4 L1389.6 1309.9 L1391.1 1366.4 L1400.7 1395.7 L1403.7 1407.6 L1412.6 1425.5 L1412.6 1440.3 L1405.2 1458.2 L1406.7 1473 L1400.7 1486.4 L1390.3 1493.9 L1375.5 1496.8 L1372.5 1489.4 L1363.6 1496.8 L1353.2 1502.8 L1354.6 1511.7 L1344.2 1523.6 L1323.4 1537 L1311.5 1544.4 L1299.6 1542.9 L1281.8 1551.9 L1275.8 1559.3 L1262.5 1569.7 L1259.5 1578.6 L1253.5 1583.1 L1246.1 1595 L1249.1 1611.3 L1240.1 1621.7 L1243.1 1624.7 L1240.1 1636.6 L1246.1 1660.4 L1253.5 1684.8 L1249.1 1680.6 L1231.2 1679.7 L1216.4 1675.3 L1201.5 1666.4 L1186.6 1658.9 L1180.7 1642.6 L1170.3 1621.7 L1167.3 1600.9 L1156.9 1580.1 L1142 1559.3 L1127.1 1532.5 L1112.3 1511.7 L1091.4 1490.9 L1076.6 1479 L1061.7 1477.5 L1046.8 1473 L1034.9 1476 L1021.6 1486.4 L1014.1 1505.8 L1002.2 1519.1 L978.4 1505.8 L966.5 1493.9 L950.2 1473 L945.7 1449.3 L936.8 1431.4 L919 1416.5 L904.1 1398.7 L886.2 1380.9 L878.8 1369 L847.6 1363 L792.2 1357.2 L790.7 1377.2 L671.7 1358.7 L536.4 1279.9 L550.3 1272 L552.6 1264 L549.2 1257.3 L545.9 1249.5 L549.2 1241.7 L557 1232.8 L560.4 1220.5 L563.7 1213.3 L571.5 1209.9 L577.1 1215.5 L579.9 1213.8 L578.2 1198.2 L571.5 1185.9 L568.7 1169.2 L566.5 1158.1 L406.7 911.2Z" fill="#f8eb25"/>
<path d="M653.5 472.1 L701.1 481 L748.7 490 L837.9 503.9 L897.4 512.9 L956.9 519.7 L1038.7 526.2 L1032.7 618.4 L1025.3 707.7 L1016.4 796.9 L1009.8 868.3 L1006.8 925.1 L1080.5 930.9 L1069.5 1120.6 L975.8 1113.8 L886.6 1104.8 L797.4 1092.9 L708.2 1078.1 L610 1063.2 L654.6 828.3 L766.2 844.6 L778.4 767.1 L785.9 699.3 L768 697.2 L760.6 703.2 L730.9 701.7 L713 686.8 L710 677.9 L701.1 663 L699.6 642.2 L689.2 631.8 L674.3 637.8 L678.8 630.3 L681.8 615.5 L689.2 591.7 L686.2 582.8 L672.9 578.3 L663.9 553 L647.6 544.1 L653.5 535.2 L646.1 511.4Z" fill="#0b5eab"/>
<path d="M1050.6 528.5 L1148.7 535 L1252.8 538.9 L1345 538.3 L1345.6 521.6 L1348 521.6 L1349.4 539.5 L1361.3 552.9 L1379.2 555.8 L1380.7 560.3 L1401.5 556.7 L1411.9 557.9 L1428.3 569.2 L1440.1 572.2 L1461 579.6 L1481.8 573.7 L1505.6 575.8 L1514.5 579.6 L1481.8 599 L1458 622.8 L1437.2 642.1 L1455 650.1 L1472.9 643.6 L1481.8 639.1 L1479.4 654.9 L1505.6 649.5 L1532.3 636.1 L1550.2 628.7 L1565.1 617.4 L1568.6 639.1 L1580.8 631.4 L1597.2 634.3 L1609.1 646.2 L1623.9 647.7 L1643.3 646.2 L1650.7 638.8 L1684.9 631.4 L1692.3 643.3 L1714.6 640.3 L1720.6 650.7 L1708.7 653.7 L1687.9 651.6 L1673 659.6 L1646.2 662.6 L1644.8 667.1 L1628.4 674.5 L1619.5 677.5 L1612 693.8 L1604.6 699.8 L1604.6 705.7 L1597.2 705.7 L1600.1 714.6 L1594.2 732.5 L1588.3 754.8 L1601.6 747.4 L1609.1 738.4 L1615 729.5 L1609.1 750.3 L1604.6 774.1 L1600.1 797.9 L1601.6 818.7 L1607.6 833.6 L1609.1 854.4 L1616.5 869.3 L1619.5 879.7 L1629.9 890.1 L1641.8 888.6 L1658.1 882.7 L1662.6 872.3 L1668.6 854.4 L1674.5 833.6 L1673 815.8 L1664.1 792 L1659.6 762.2 L1665.6 741.4 L1671.5 722.1 L1676 728 L1690.9 720.6 L1693.8 701.3 L1701.3 693.8 L1714.6 684.9 L1702.8 680.4 L1705.7 676 L1723.6 681.9 L1738.4 690.9 L1750.3 693.8 L1757.8 714.6 L1757.8 732.5 L1744.4 744.4 L1739.9 762.2 L1745.9 774.1 L1757.8 780.1 L1765.2 768.2 L1778.6 753.3 L1784.5 754.8 L1794.9 783 L1797.9 797.9 L1790.5 818.7 L1780.1 839.6 L1771.2 863.3 L1768.2 873.8 L1780.1 872.3 L1792 879.7 L1786 893.1 L1806.8 881.8 L1821.7 879.7 L1841 870.8 L1857.4 858.9 L1877.6 848.5 L1885.7 902 L1885.9 911.9 L1878.4 914.9 L1884.4 938.7 L1882.9 950.6 L1869.5 963.9 L1854.6 974.3 L1847.2 986.2 L1842.8 1004.1 L1830.9 1020.4 L1827.9 1021.9 L1830.9 1036.8 L1851.7 1068 L1852.2 1067.4 L1843.3 1076.4 L1831.4 1088.3 L1829.9 1094.2 L1818 1106.1 L1798.7 1117.2 L1760 1121 L1621 1136.5 L1577.9 1138 L1565.4 1149.9 L1561.6 1169.2 L1552.6 1167.7 L1555.6 1151.4 L1545.2 1146.9 L1374.7 1153.7 L1374.1 1128.4 L1081.8 1121.9 L1091.8 921.9 L1018.1 914.5Z" fill="#00a666"/>
<path d="M1376.2 1164.7 L1541.9 1158.2 L1545.7 1161.7 L1535.3 1171.6 L1535.3 1182.6 L1560.6 1181.4 L1566.5 1191.5 L1571.6 1180.5 L1575.5 1155.2 L1634.4 1146.9 L1640.4 1142.5 L1756.4 1129.1 L1804.6 1127.7 L1865.6 1119.5 L1866.3 1123.9 L1862.6 1131.4 L1855.2 1141 L1843.3 1147.7 L1831.4 1149.2 L1828.4 1155.2 L1820.2 1158.9 L1816.5 1167.1 L1809.1 1173 L1800.1 1179 L1783.8 1188.6 L1772.6 1197.5 L1771.2 1201.3 L1763.7 1202.8 L1761.8 1222.4 L1834.3 1211.7 L1852.2 1205 L1861.1 1196.8 L1914.6 1191.6 L1919.9 1194.6 L1925.1 1195.3 L1931 1199.8 L1932.5 1206.5 L1986 1201.3 L2018.7 1223.6 L2012.8 1234 L2006.8 1247.4 L2003.9 1257.8 L1992 1271.2 L1978.6 1286 L1965.2 1300.9 L1953.3 1311.3 L1949.8 1322.3 L1942.4 1337.2 L1934.9 1358 L1929 1375.8 L1925.7 1380.9 L1928.6 1398.7 L1933.1 1416.5 L1942 1434.4 L1950.9 1455.2 L1965.8 1480.5 L1977.7 1492.4 L1986.6 1505.8 L1985.1 1514.7 L1992.6 1526.6 L2000 1538.5 L2007.4 1553.3 L2016.4 1568.2 L2022.3 1586.1 L2023.8 1606.9 L2025.3 1624.7 L2019.3 1633.6 L2021.7 1642.6 L2019.3 1655.9 L2004.5 1661.9 L2000 1655.9 L1989.6 1645.5 L1980.7 1635.1 L1964.3 1632.2 L1958.4 1614.3 L1946.5 1605.4 L1945 1599.4 L1939 1586.1 L1927.1 1587.5 L1922.7 1577.1 L1915.2 1566.7 L1919.7 1553.3 L1922.7 1542.9 L1915.2 1537 L1902.8 1534.9 L1904.8 1526.6 L1903.3 1511.7 L1898.9 1496.8 L1885.5 1482 L1867.7 1468.6 L1857.2 1455.2 L1846.8 1447.8 L1832 1440.3 L1814.1 1444.8 L1802.2 1455.2 L1782.9 1465.6 L1771 1455.2 L1759.1 1440.3 L1754.6 1444.8 L1735.3 1438.8 L1733.8 1432.9 L1708.6 1435.9 L1705.8 1436.9 L1693.9 1435.4 L1682 1441.3 L1668.6 1447.3 L1664.2 1433.9 L1656.7 1419 L1650.8 1428 L1647.8 1439.9 L1625.5 1445.8 L1601.7 1453.2 L1586.8 1457.7 L1574.9 1453.2 L1563 1450.3 L1552.6 1457.7 L1551.2 1469.6 L1560.1 1478.5 L1580.9 1477 L1592.8 1472.6 L1598.7 1475.5 L1591.3 1485.9 L1583.9 1491.9 L1586.8 1499.3 L1577.9 1494.9 L1569 1508.3 L1554.1 1517.2 L1545.2 1520.1 L1530.3 1505.3 L1512.5 1496.4 L1497.6 1483 L1488.7 1481.5 L1476.8 1494.9 L1459 1496.4 L1444.1 1493.4 L1429.2 1487.4 L1412.9 1488.9 L1415.8 1472.6 L1415.8 1454.7 L1420.3 1436.9 L1419.7 1419 L1412.9 1401.2 L1403.9 1383.3 L1399.5 1347.7 L1398 1303 L1378.7 1300.1 L1378.7 1228.7Z" fill="#f69e1e"/>
<path d="M1886.2 841.5 L1898.7 837 L2063.7 808.8 L2072.6 819.2 L2077.1 826.6 L2120.2 840 L2121.7 853.4 L2114.3 862.3 L2117.2 871.2 L2129.1 874.2 L2128 874.9 L2130.3 896.5 L2126.5 909.9 L2119.1 921.8 L2115.4 927.7 L2102.8 924.8 L2095.3 918.8 L2090.9 913.6 L2079 917.3 L2061.1 920.3 L2058.1 927.7 L2052.2 936.7 L2046.2 945.6 L2047.7 959 L2049.2 970.9 L2053.7 984.2 L2055.2 990.2 L2052.2 994.6 L2062.6 997.6 L2067.1 1008 L2065.6 1018.4 L2067.1 1030.3 L2064.1 1045.2 L2064.8 1057.1 L2077.5 1066.8 L2090.9 1062.3 L2090.9 1080.9 L2122.1 1077.2 L2132.5 1083.9 L2122.1 1085.4 L2120.6 1089.8 L2101.5 1102.2 L2107.4 1111.2 L2116.4 1108.2 L2128.3 1114.1 L2140.1 1105.2 L2143.1 1111.2 L2137.2 1123 L2128.3 1132 L2116.4 1126 L2107.4 1137.9 L2113.4 1143.9 L2110.4 1155.8 L2122.3 1161.7 L2110.4 1161.7 L2095.5 1158.7 L2098.5 1173.6 L2086.6 1188.5 L2071.7 1209.3 L2066.3 1226.5 L2044 1231 L2021.7 1214.6 L1989 1192.3 L1939.9 1198.3 L1938.4 1193.8 L1928 1186.4 L1923.6 1181.9 L1861.1 1188.6 L1849.2 1196.8 L1831.4 1203.5 L1771.2 1211.7 L1779.3 1201.3 L1785.3 1193.8 L1795.7 1189.4 L1804.6 1183.4 L1816.5 1177.5 L1825.4 1167.1 L1831.4 1158.1 L1837.3 1158.9 L1843.3 1155.2 L1861.1 1146.2 L1868.6 1137.3 L1873.8 1129.9 L1874.5 1113.5 L1864.1 1106.1 L1832.9 1109.1 L1834.3 1104.6 L1840.3 1100.1 L1841 1094.2 L1849.2 1085.3 L1861.1 1073.4 L1862.6 1060 L1848.7 1051.7 L1838.3 1036.8 L1841.3 1030.9 L1847.2 1013 L1857.6 1001.1 L1865.1 980.3 L1878.4 969.9 L1893.3 956.5 L1894.8 940.1 L1903.7 938.7 L1902 940.7 L1897.5 902Z M2074.5 928 L2079 935.2 L2086.4 947.1 L2090.9 954.5 L2099.8 960.4 L2105 966.4 L2107.2 975.3 L2105.7 984.2 L2104.2 997.6 L2106.5 998.4 L2100.5 1003.6 L2099 1015.5 L2094.6 1027.4 L2091.6 1037.8 L2089.4 1042.2 L2087.1 1034.8 L2087.9 1025.9 L2089.4 1018.4 L2091.6 1011 L2090.9 1006.5 L2086.4 999.1 L2084.9 991.7 L2077.5 988.7 L2071.5 985.7 L2067.1 978.3 L2067.8 972.3 L2065.6 967.9 L2067.1 961.9 L2064.1 953 L2061.1 949.3 L2067.1 939.6Z" fill="#25408f"/>
<path d="M1909.1 825.1 L1932.9 788 L1926.9 776.1 L1927.8 765.7 L1935.8 758.2 L1958.1 753.8 L1973 758.2 L2002.8 747.8 L2022.1 734.4 L2022.1 716.6 L2014.6 704.7 L2022.1 697.2 L2031 677.9 L2042.9 661.6 L2051.8 652.6 L2083 645.2 L2127.7 634.8 L2169.3 624.4 L2172.3 609.5 L2184.2 603.6 L2193.1 591.7 L2196.1 576.8 L2199 559 L2197.5 547.1 L2200.5 526.2 L2209.4 496.5 L2213.9 484.6 L2216.9 495 L2228.8 490.6 L2243.6 481.6 L2249.6 481.6 L2261.5 490.6 L2270.4 517.3 L2282.3 556 L2292.7 557.5 L2297.2 570.9 L2312 573.8 L2318 591.7 L2303.1 602.1 L2297.2 612.5 L2288.3 609.5 L2282.3 618.4 L2273.4 625.9 L2261.5 630.3 L2257 648.2 L2249.6 654.1 L2237.7 660.1 L2228.8 664.5 L2224.3 677.9 L2221.3 692.8 L2215.4 716.6 L2221.3 728.5 L2215.4 746.3 L2225.8 749.3 L2234.7 761.2 L2239.2 770.1 L2245.1 769.5 L2246.6 774.6 L2237.7 773.1 L2227.3 785 L2221.3 786.5 L2224.3 773.1 L2210.9 785 L2210.9 793.9 L2199 799.9 L2179.7 804.3 L2166.3 810.3 L2150 820.7 L2142.5 826.6 L2136.6 823.6 L2129.1 834.1 L2121.7 832.6 L2086 820.7 L2080.1 810.3 L2068.2 796.9Z M2132.1 854.9 L2131.2 847.4 L2139.6 844.5 L2145.5 838.5 L2167.8 829.6 L2178.2 826.6 L2179.7 829.6 L2166.3 838.5 L2152.9 845.9 L2139.6 851.9Z" fill="#58595b"/>
<g id="labels">
<text transform="translate(412.80 685.78) scale(1.1246 1.0222)" font-size="76" font-weight="700" fill="#000" stroke="#000" stroke-width="2.2" stroke-linejoin="round">18.6</text>
<text transform="translate(784.12 983.18) scale(1.0697 1.0222)" font-size="76" font-weight="700" fill="#fff" stroke="#fff" stroke-width="2.2" stroke-linejoin="round">19.3</text>
<text transform="translate(325.74 1092.98) scale(1.0894 1.0222)" font-size="76" font-weight="700" fill="#000" stroke="#000" stroke-width="2.2" stroke-linejoin="round">15.9</text>
<text transform="translate(1335.69 950.78) scale(1.1014 1.0222)" font-size="76" font-weight="700" fill="#000" stroke="#000" stroke-width="2.2" stroke-linejoin="round">16.7</text>
<text transform="translate(2040.45 734.48) scale(1.0113 1.0222)" font-size="76" font-weight="700" fill="#fff" stroke="#fff" stroke-width="2.2" stroke-linejoin="round">17.7</text>
<text transform="translate(1878.16 1051.18) scale(1.0345 1.0222)" font-size="76" font-weight="700" fill="#fff" stroke="#fff" stroke-width="2.2" stroke-linejoin="round">17.3</text>
<text transform="translate(1005.82 1307.68) scale(1.0697 1.0222)" font-size="76" font-weight="700" fill="#000" stroke="#000" stroke-width="2.2" stroke-linejoin="round">19.6</text>
<text transform="translate(1589.50 1334.18) scale(1.1246 1.0222)" font-size="76" font-weight="700" fill="#000" stroke="#000" stroke-width="2.2" stroke-linejoin="round">18.6</text>
<text transform="translate(606.31 1661.98) scale(1.1465 1.0222)" font-size="76" font-weight="700" fill="#000" stroke="#000" stroke-width="2.2" stroke-linejoin="round">14.8</text>
</g>
<g id="legend">
<rect x="202.4" y="1785.3" width="202.6" height="56" fill="#d0d0d0"/>
<text transform="translate(230.79 1825.80) scale(1.0091 1.0000)" font-size="34" font-weight="400" fill="#000" stroke="#000" stroke-width="1.0">California</text>
<rect x="435" y="1785.3" width="223" height="56" fill="#25408f"/>
<text transform="translate(453.36 1825.80) scale(1.0680 1.0000)" font-size="34" font-weight="400" fill="#fff" stroke="#fff" stroke-width="1.0">Mid-Atlantic</text>
<rect x="688" y="1785.3" width="202" height="56" fill="#00a666"/>
<text transform="translate(720.77 1825.80) scale(1.0675 1.0000)" font-size="34" font-weight="400" fill="#000" stroke="#000" stroke-width="1.0">Midwest</text>
<rect x="919" y="1785.3" width="202" height="56" fill="#0b5eab"/>
<text transform="translate(946.09 1825.80) scale(1.0574 1.0000)" font-size="34" font-weight="400" fill="#fff" stroke="#fff" stroke-width="1.0">Mountain</text>
<rect x="1149.5" y="1785.3" width="202.2" height="56" fill="#58595b"/>
<text transform="translate(1172.40 1825.80) scale(1.0500 1.0000)" font-size="34" font-weight="400" fill="#fff" stroke="#fff" stroke-width="1.0">Northeast</text>
<rect x="202.4" y="1864" width="202.6" height="56" fill="#5482ad"/>
<text transform="translate(225.25 1901.60) scale(1.0728 1.0000)" font-size="34" font-weight="400" fill="#000" stroke="#000" stroke-width="1.0">Northwest</text>
<rect x="435" y="1864" width="182.7" height="56" fill="#b9d991"/>
<text transform="translate(477.08 1901.60) scale(1.0122 1.0000)" font-size="34" font-weight="400" fill="#000" stroke="#000" stroke-width="1.0">Pacific</text>
<rect x="646.4" y="1864" width="205.6" height="56" fill="#f69e1e"/>
<text transform="translate(668.66 1901.60) scale(1.0434 1.0000)" font-size="34" font-weight="400" fill="#000" stroke="#000" stroke-width="1.0">Southeast</text>
<rect x="881" y="1864" width="201.8" height="56" fill="#f8eb25"/>
<text transform="translate(897.45 1901.60) scale(1.0519 1.0000)" font-size="34" font-weight="400" fill="#000" stroke="#000" stroke-width="1.0">Southwest</text>
</g>
</svg>
</body></html>
